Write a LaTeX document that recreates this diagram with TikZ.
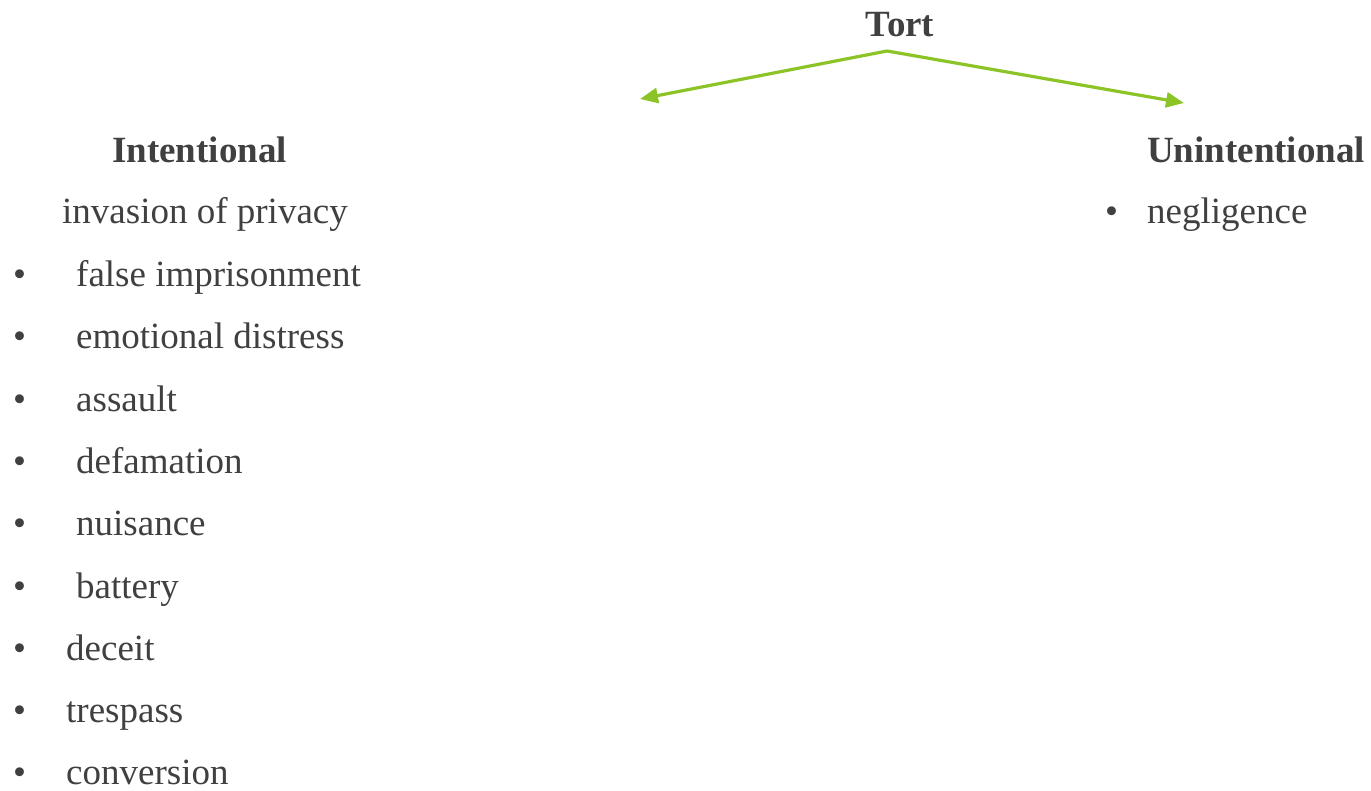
\documentclass[tikz,border=0pt]{standalone}
\usepackage{fontspec}
\setmainfont{Liberation Serif}
\usetikzlibrary{arrows.meta}
\definecolor{txt}{RGB}{64,64,64}
\definecolor{grn}{RGB}{140,196,40}
\tikzset{
  lbl/.style={inner sep=0pt, anchor=base west, text=txt, font=\fontsize{37}{44}\selectfont},
  head/.style={lbl, font=\fontsize{37}{44}\selectfont\bfseries},
  bul/.style={inner sep=0pt, anchor=base west, text=txt, font=\fontsize{37}{44}\selectfont},
  arr/.style={draw=grn, line width=3.2pt, -{Triangle[length=18pt,width=15pt]}}
}
\begin{document}
\begin{tikzpicture}[x=1pt,y=-1pt]
\useasboundingbox (0,0) rectangle (1371,791);
\node[head, anchor=base] (tort) at (900,37) {Tort};
\coordinate (apex) at (887,51);
\coordinate (lt) at (640,99);
\coordinate (rt) at (1184,103);
\draw[arr] (apex) -- (lt);
\draw[arr] (apex) -- (rt);
\node[head] (int) at (112,163) {Intentional};
\node[head] (unint) at (1147,163) {Unintentional};
\node[lbl] (inv) at (62,224) {invasion of privacy};
\node[bul] (b0) at (1105,224) {•};
\node[lbl] (neg) at (1147,224) {negligence};
\foreach \i/\t/\x in {0/false imprisonment/76, 1/emotional distress/76, 2/assault/76, 3/defamation/76, 4/nuisance/76, 5/battery/76, 6/deceit/66, 7/trespass/66, 8/conversion/66}{
  \node[bul] (bb\i) at (13,286.5+62.3*\i) {•};
  \node[lbl] (it\i) at (\x,286.5+62.3*\i) {\t};
}
\end{tikzpicture}
\end{document}
